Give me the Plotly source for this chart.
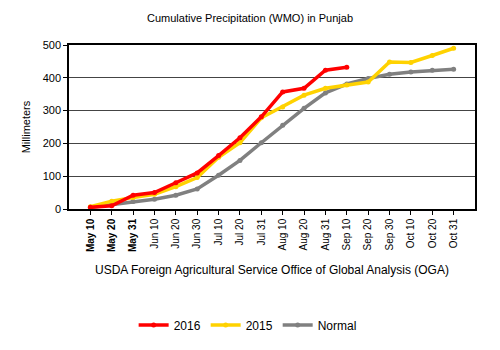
import plotly.graph_objects as go

categories = ["May 10", "May 20", "May 31", "Jun 10", "Jun 20", "Jun 30", "Jul 10", "Jul 20",
              "Jul 31", "Aug 10", "Aug 20", "Aug 31", "Sep 10", "Sep 20", "Sep 30", "Oct 10",
              "Oct 20", "Oct 31"]
y2016 = [5, 10, 42, 50, 80, 110, 163, 217, 281, 357, 368, 423, 432]
y2015 = [7, 24, 35, 45, 68, 96, 158, 202, 278, 311, 347, 368, 378, 387, 448, 447, 468, 490]
normal = [5, 13, 23, 30, 42, 61, 103, 148, 202, 255, 307, 354, 381, 398, 411, 418, 423, 426]
yticks = [0, 100, 200, 300, 400, 500]

FONT = "Liberation Sans, Arial, sans-serif"
fig = go.Figure()
fig.add_trace(go.Scatter(x=categories, y=normal, name="Normal", mode="lines+markers",
                         line=dict(color="#808080", width=3.5), marker=dict(size=5, color="#808080")))
fig.add_trace(go.Scatter(x=categories, y=y2015, name="2015", mode="lines+markers",
                         line=dict(color="#FFD200", width=3.5), marker=dict(size=5, color="#FFD200")))
fig.add_trace(go.Scatter(x=categories[:len(y2016)], y=y2016, name="2016", mode="lines+markers",
                         line=dict(color="#FF0000", width=3.5), marker=dict(size=5, color="#FF0000")))

ticktext = ["<b>%s</b>" % c if c.startswith("May") else c for c in categories]

fig.update_layout(
    width=500, height=350,
    margin=dict(l=69, r=25, t=45, b=140),
    paper_bgcolor="white", plot_bgcolor="white",
    font=dict(family=FONT, size=11, color="#000"),
    title=dict(text="Cumulative Precipitation (WMO) in Punjab", x=0.5, xanchor="center",
               y=1 - 18 / 350, yanchor="middle", font=dict(size=11, family=FONT)),
    showlegend=True,
    legend=dict(orientation="h", x=0.44, xanchor="center", y=-0.697, yanchor="middle",
                traceorder="reversed", font=dict(size=12, family=FONT)),
)
fig.update_xaxes(
    type="category", categoryorder="array", categoryarray=categories,
    range=[-1, 18], tickangle=-90, tickfont=dict(size=10, family=FONT),
    showline=True, linecolor="#000", linewidth=1.5, mirror=True,
    ticks="outside", ticklen=4, tickcolor="#000", showgrid=False,
    tickmode="array", tickvals=categories, ticktext=ticktext,
    title=dict(text="USDA Foreign Agricultural Service Office of Global Analysis (OGA)",
               font=dict(size=12, family=FONT), standoff=14),
)
fig.update_yaxes(
    range=[0, 500], tickvals=yticks, showgrid=True, gridcolor="#444", gridwidth=1.2,
    showline=True, linecolor="#000", linewidth=1.5, mirror=True,
    ticks="outside", ticklen=4, tickcolor="#000", tickfont=dict(size=11, family=FONT),
    title=dict(text="Millimeters", font=dict(size=11, family=FONT), standoff=10),
    zeroline=False,
)
fig.write_html("out.html")
